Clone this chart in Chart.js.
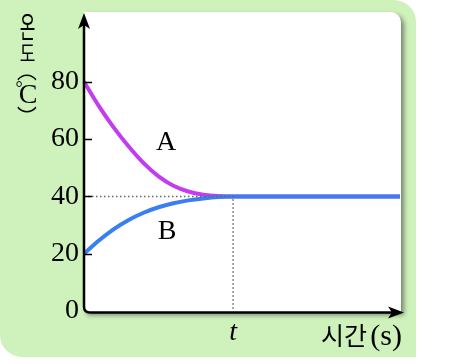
<!DOCTYPE html>
<html>
<head>
<meta charset="utf-8">
<style>
  html, body { margin: 0; padding: 0; background: #fff; }
  #wrap { width: 451px; height: 364px; }
</style>
<script src="https://cdn.jsdelivr.net/npm/chart.js@4.4.0/dist/chart.umd.min.js"></script>
</head>
<body>
<div id="wrap"><canvas id="c" width="451" height="364"></canvas></div>
<script>
const timeX = [0, 0.1, 0.2, 0.3, 0.4, 0.5, 0.6, 0.7, 0.8, 0.9, 1.0, 2.12];
const tempA = [80, 71.5, 64, 57.4, 51.6, 47, 43.7, 41.7, 40.6, 40.1, 40, 40];
const tempB = [20, 24.6, 28.6, 31.8, 34.3, 36.2, 37.6, 38.6, 39.3, 39.8, 40, 40];
const yTicks = [0, 20, 40, 60, 80];
const tMark = 1; // time t
const eqTemp = 40;

const serif = '"Liberation Serif", "DejaVu Serif", "Noto Sans CJK KR", serif';
const kr = '"Noto Sans CJK KR", sans-serif';

const toPts = (xs, ys) => xs.map((x, i) => ({ x: x, y: ys[i] }));

// one glyph, squeezed/stretched around its centre
function glyph(ctx, ch, x, y, font, sx, sy) {
  ctx.save();
  ctx.translate(x, y);
  ctx.scale(sx, sy);
  ctx.font = font;
  ctx.fillText(ch, 0, 0);
  ctx.restore();
}

const decor = {
  id: "decor",
  beforeDraw(chart) {
    const ctx = chart.ctx;
    const a = chart.chartArea;
    ctx.save();
    ctx.fillStyle = "#fff";
    ctx.fillRect(0, 0, chart.width, chart.height);
    // green card
    ctx.fillStyle = "#cff2bd";
    ctx.beginPath();
    ctx.roundRect(0, 0, 416, 357, [0, 22, 0, 22]);
    ctx.fill();
    // white plot panel with soft shadow
    ctx.shadowColor = "rgba(0,0,0,0.45)";
    ctx.shadowBlur = 5;
    ctx.shadowOffsetX = 3;
    ctx.shadowOffsetY = 3;
    ctx.fillStyle = "#fff";
    ctx.beginPath();
    ctx.roundRect(a.left, a.top - 1, a.right - a.left - 2, a.bottom - a.top + 2, [0, 10, 0, 0]);
    ctx.fill();
    ctx.restore();
  },
  afterDraw(chart) {
    const ctx = chart.ctx;
    const a = chart.chartArea;
    const xs = chart.scales.x, ys = chart.scales.y;
    const x0 = a.left, y0 = a.bottom + 1.5;
    ctx.save();
    // tick marks
    ctx.strokeStyle = "#000";
    ctx.lineWidth = 1.5;
    yTicks.forEach(v => {
      if (v === 0) return;
      const py = Math.round(ys.getPixelForValue(v)) + 0.5;
      ctx.beginPath();
      ctx.moveTo(x0, py);
      ctx.lineTo(x0 + 8, py);
      ctx.stroke();
    });
    // axes
    ctx.lineWidth = 2.5;
    ctx.beginPath();
    ctx.moveTo(x0, a.top + 10);
    ctx.lineTo(x0, y0 - 6);
    ctx.quadraticCurveTo(x0, y0, x0 + 6, y0);
    ctx.lineTo(a.right - 6, y0);
    ctx.stroke();
    ctx.fillStyle = "#000";
    ctx.beginPath();
    ctx.moveTo(x0, a.top);
    ctx.lineTo(x0 - 6, a.top + 16);
    ctx.lineTo(x0, a.top + 12);
    ctx.lineTo(x0 + 6, a.top + 16);
    ctx.closePath();
    ctx.fill();
    ctx.beginPath();
    ctx.moveTo(a.right + 1, y0);
    ctx.lineTo(a.right - 15, y0 - 6);
    ctx.lineTo(a.right - 11, y0);
    ctx.lineTo(a.right - 15, y0 + 6);
    ctx.closePath();
    ctx.fill();
    // texts
    ctx.fillStyle = "#000";
    ctx.textBaseline = "middle";
    ctx.textAlign = "center";
    ctx.font = "28px " + serif;
    ctx.fillText("A", 166, 143);
    ctx.fillText("B", 167, 232);
    ctx.font = "italic 28px " + serif;
    ctx.fillText("t", xs.getPixelForValue(tMark), 333);
    ctx.textAlign = "right";
    ctx.font = "30px " + serif;
    ctx.fillText("(s)", 402, 337);
    ctx.font = "25px " + kr;
    ctx.fillText("시간", 367, 335);
    // vertical y title: 온도(℃), stacked upright
    ctx.textAlign = "center";
    glyph(ctx, "온", 27.5, 27, "20px " + kr, 0.85, 1.45);
    glyph(ctx, "도", 27.5, 53, "20px " + kr, 0.85, 1.1);
    glyph(ctx, "\uFE35", 27, 70, "22px " + kr, 0.9, 1);
    glyph(ctx, "C", 28, 96, "28px " + serif, 1, 1);
    glyph(ctx, "°", 19, 89, "18px " + serif, 1, 1);
    glyph(ctx, "\uFE36", 27, 117, "22px " + kr, 0.9, 1);
    ctx.restore();
  }
};

new Chart(document.getElementById("c"), {
  type: "scatter",
  data: {
    datasets: [
      {
        label: "guide",
        data: [{ x: 0, y: eqTemp }, { x: tMark, y: eqTemp }, { x: tMark, y: 0 }],
        showLine: true,
        borderColor: "#666",
        borderWidth: 1.5,
        borderDash: [1.5, 2.5],
        pointRadius: 0,
        tension: 0,
        clip: false
      },
      {
        label: "B",
        data: toPts(timeX, tempB),
        showLine: true,
        borderColor: "#3a7ef0",
        borderWidth: 4,
        pointRadius: 0,
        cubicInterpolationMode: "monotone",
        clip: false
      },
      {
        label: "A",
        data: toPts(timeX, tempA),
        showLine: true,
        borderColor: "#c23cf0",
        borderWidth: 4,
        pointRadius: 0,
        cubicInterpolationMode: "monotone",
        clip: false
      }
    ]
  },
  options: {
    responsive: false,
    animation: false,
    layout: { padding: { top: 13, right: 48, bottom: 53, left: 0 } },
    plugins: { legend: { display: false }, tooltip: { enabled: false } },
    scales: {
      x: { type: "linear", min: 0, max: 2.14, display: false },
      y: {
        type: "linear",
        min: 0,
        max: 104,
        afterBuildTicks: s => { s.ticks = yTicks.map(v => ({ value: v })); },
        afterFit: s => { s.width = 84; s.paddingTop = 0; s.paddingBottom = 0; },
        border: { display: false },
        grid: { display: false, drawTicks: false },
        ticks: { color: "#000", padding: 5, font: { family: serif, size: 28 } }
      }
    }
  },
  plugins: [decor]
});
</script>
</body>
</html>
